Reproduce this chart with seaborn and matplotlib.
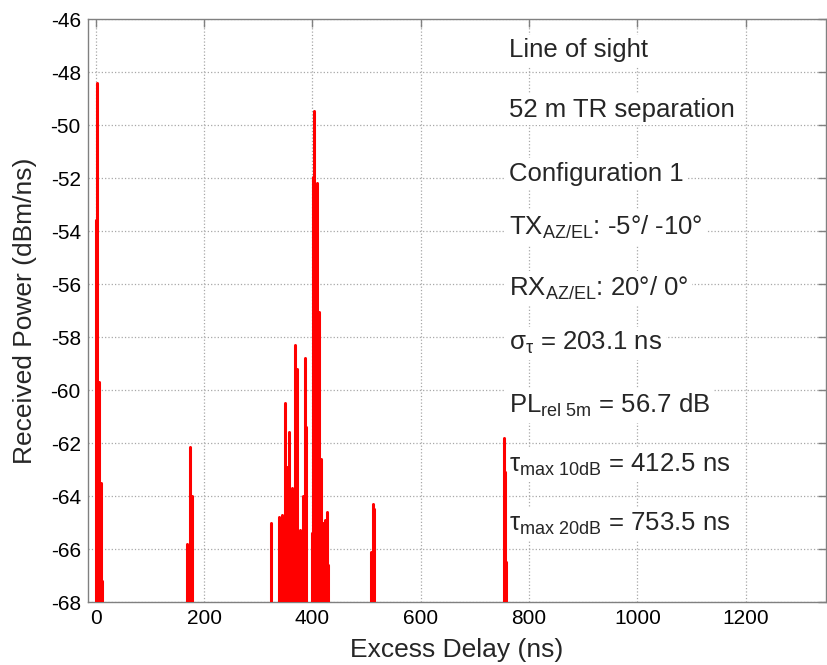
"""
Power delay profile: line of sight, 52 m TR separation (Configuration 1)
"""
import pandas as pd
import matplotlib
matplotlib.use('Agg')
import matplotlib.pyplot as plt
import seaborn as sns

# Multipath components (excess delay in ns, received power in dBm/ns)
delay_ns = [0, 1.5, 5, 9, 12,
            169, 174, 177,
            323.5, 338, 344, 349, 353, 357, 362, 368, 371.5, 377,
            381, 383, 386, 388, 399, 401, 403.5, 406.5, 408, 412,
            415, 420, 423, 426, 429,
            508.5, 511, 514,
            753.5, 756, 758]
power_dbm = [-53.6, -48.4, -59.7, -63.5, -67.2,
             -65.8, -62.15, -64.0,
             -65.0, -64.8, -64.7, -60.5, -62.9, -61.6, -63.7, -58.3, -59.2, -65.3,
             -65.9, -64.0, -58.8, -61.4, -65.4, -51.95, -49.46, -64.7, -52.2, -57.05,
             -62.6, -65.0, -64.9, -64.6, -66.6,
             -66.1, -64.3, -64.5,
             -61.8, -63.1, -66.5]
floor_dbm = -68

x_ticks = [0, 200, 400, 600, 800, 1000, 1200]
y_ticks = list(range(-68, -44, 2))

annotations = [
    'Line of sight',
    '52 m TR separation',
    'Configuration 1',
    r'TX$_{\mathrm{AZ/EL}}$: -5°/ -10°',
    r'RX$_{\mathrm{AZ/EL}}$: 20°/ 0°',
    r'$\mathrm{σ_{τ}}$ = 203.1 ns',
    r'PL$_{\mathrm{rel\ 5m}}$ = 56.7 dB',
    r'$\mathrm{τ_{max\ 10dB}}$ = 412.5 ns',
    r'$\mathrm{τ_{max\ 20dB}}$ = 753.5 ns',
]
text_x = 763
text_y = [-47.45, -49.69, -52.1, -54.15, -56.45, -58.5, -60.87, -63.08, -65.3]

sns.set_theme(style='white')
plt.rcParams['font.family'] = ['Liberation Sans', 'DejaVu Sans']
plt.rcParams['mathtext.fontset'] = 'custom'
plt.rcParams['mathtext.rm'] = 'Liberation Sans'
plt.rcParams['mathtext.it'] = 'Liberation Sans:italic'
plt.rcParams['mathtext.sf'] = 'Liberation Sans'
plt.rcParams['axes.unicode_minus'] = False

# each spike is a segment from the noise floor up to its power
rows = []
for i, (d, p) in enumerate(zip(delay_ns, power_dbm)):
    rows.append({'spike': i, 'delay': d, 'power': floor_dbm})
    rows.append({'spike': i, 'delay': d, 'power': p})
df = pd.DataFrame(rows)

fig = plt.figure(figsize=(8.28, 6.65), dpi=100)
ax = fig.add_axes([0.106, 0.0947, 0.892, 0.8767])
ax.set_axisbelow(True)

sns.lineplot(data=df, x='delay', y='power', units='spike', estimator=None,
             color='red', linewidth=2.2, sort=False, ax=ax, legend=False,
             zorder=4)

ax.set_xlim(-15, 1349)
ax.set_ylim(-68, -46)
ax.set_xticks(x_ticks)
ax.set_yticks(y_ticks)
ax.grid(True, linestyle=':', color='#a8a8a8', linewidth=0.9)
ax.tick_params(direction='in', length=6, width=1, color='#808080',
               top=True, right=True, labelsize=15, labelcolor='black', pad=5)
for s in ax.spines.values():
    s.set_color('#808080')
    s.set_linewidth(1.0)

ax.set_xlabel('Excess Delay (ns)', fontsize=19, labelpad=7)
ax.set_ylabel('Received Power (dBm/ns)', fontsize=19, labelpad=10)

for label, ty in zip(annotations, text_y):
    ax.text(text_x, ty, label, fontsize=18.5, va='baseline', ha='left', zorder=3,
            bbox=dict(facecolor='white', edgecolor='none', pad=2.5))

fig.savefig('out.png', dpi=100)
